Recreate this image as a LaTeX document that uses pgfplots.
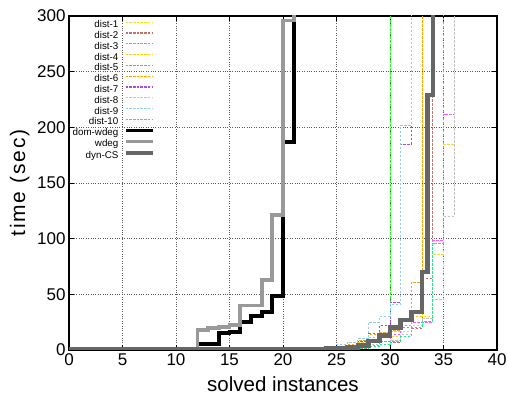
\documentclass[border=0pt]{standalone}
\usepackage{pgfplots}
\pgfplotsset{compat=1.18}
\usepackage{fontspec}
\setmainfont{Liberation Sans}
\definecolor{distA}{HTML}{F2E21E}
\definecolor{distB}{HTML}{CC6F6A}
\definecolor{distC}{HTML}{3AE83A}
\definecolor{distD}{HTML}{FFD000}
\definecolor{distE}{HTML}{FF55FF}
\definecolor{distF}{HTML}{FFA500}
\definecolor{distG}{HTML}{A64AF2}
\definecolor{distH}{HTML}{C4C4C4}
\definecolor{distI}{HTML}{90CDEE}
\definecolor{distJ}{HTML}{10F090}
\definecolor{wdegcol}{HTML}{999999}
\definecolor{dyncol}{HTML}{666666}
\pgfplotsset{distline/.style={color=#1, dash pattern=on 2.5pt off 1.5pt, line width=0.9pt, legend image post style={line width=1.3pt, dash pattern=on 2.5pt off 1.2pt}}}
\begin{document}
\begin{tikzpicture}
\useasboundingbox (-69pt,-48pt) rectangle (439pt,350pt);
\begin{axis}[
  at={(0pt,0pt)}, anchor=south west,
  scale only axis, width=428pt, height=334pt,
  xmin=0, xmax=40, ymin=0, ymax=300,
  xtick={0,5,...,40}, ytick={0,50,...,300},
  grid=major,
  major grid style={dotted, black!65, line width=0.7pt},
  axis line style={line width=1.1pt},
  tick style={black, line width=0.8pt}, major tick length=5pt,
  tick align=inside,
  ticklabel style={font=\fontsize{17}{17}\selectfont},
  /pgf/number format/assume math mode=true,
  xlabel={solved instances}, ylabel={\addfontfeatures{LetterSpace=9}time (sec)},
  label style={font=\fontsize{20.5}{20.5}\selectfont},
  xlabel style={at={(axis description cs:0.5,-0.1228)}, anchor=base},
  ylabel style={at={(axis description cs:-0.1028,0.5)}, anchor=base, font=\fontsize{21}{21}\selectfont},
  legend style={at={(axis description cs:0.2009,0.9865)}, anchor=north east,
    draw=none, fill=none, inner sep=0pt, outer sep=0pt,
    font=\fontsize{9.8}{10}\selectfont, row sep=1.4pt, column sep=5pt,
    nodes={inner sep=0pt, text height=7.2pt, text depth=2.2pt}},
  legend cell align=right,
  legend plot pos=right,
  legend image code/.code={\draw[#1] (0pt,3pt) -- (27pt,3pt);},
  const plot,
  every axis plot/.append style={line join=miter},
]
\addplot[distline=distA] coordinates {(0,0.2)(23,0.5)(25,1.5)(27,4)(29,8)(30,12)(31,16.5)(32,22)(33,30)(34,86)(35,185)(36,400)};
\addlegendentry{dist-1}
\addplot[distline=distB] coordinates {(0,0.2)(24,0.5)(26,1)(28,3)(29,5)(30,7)(31,12)(32,19.5)(33,64)(34,400)};
\addlegendentry{dist-2}
\addplot[distline=distC] coordinates {(0,0.2)(24,0.5)(26,1)(27,2)(28,3)(29,5)(30,400)};
\addlegendentry{dist-3}
\addplot[distline=distD] coordinates {(0,0.2)(23,0.5)(25,2)(26,4)(27,7)(28,11)(29,14)(30,17)(31,20)(32,30)(33,400)};
\addlegendentry{dist-4}
\addplot[distline=distE] coordinates {(0,0.2)(24,0.5)(26,1.5)(28,4)(29,8)(30,14)(31,20)(32,25)(34,98)(35,212)(36,400)};
\addlegendentry{dist-5}
\addplot[distline=distF] coordinates {(0,0.2)(22,0.5)(24,2)(25,3)(26,5)(27,9)(28,14)(29,16)(30,18)(31,22)(32,61)(33,400)};
\addlegendentry{dist-6}
\addplot[distline=distG] coordinates {(0,0.2)(23,0.5)(25,1.5)(26,3)(27,8)(28,15)(29,22)(30,43)(31,185)(32,400)};
\addlegendentry{dist-7}
\addplot[distline=distH] coordinates {(0,0.2)(24,0.5)(26,2)(28,5)(30,9)(31,14)(32,20)(33,28)(34,45)(35,120)(36,400)};
\addlegendentry{dist-8}
\addplot[distline=distI] coordinates {(0,0.2)(21,0.5)(23,1.5)(24,3)(25,5)(26,7)(27,10)(28,25)(29,30)(30,41)(31,202)(32,400)};
\addlegendentry{dist-9}
\addplot[distline=distJ] coordinates {(0,0.2)(25,0.5)(27,1.5)(28,3)(29,5)(30,8)(31,12)(32,20)(33,26)(34,96)(35,400)};
\addlegendentry{dist-10}
\addplot[black, line width=3.8pt] coordinates {(0,0.5)(12,5.4)(14,15)(15,16.5)(16,25)(17,30.5)(18,34)(19,48.5)(20,187)(21,400)};
\addlegendentry{dom-wdeg}
\addplot[wdegcol, line width=3.8pt] coordinates {(0,0.8)(12,18)(13,19.5)(14,21)(15,22.5)(16,40)(17,40)(18,63)(19,121)(20,296)(21,400)};
\addlegendentry{wdeg}
\addplot[dyncol, line width=4.6pt] coordinates {(0,0.5)(20,0.8)(22,1)(24,1.5)(26,2.5)(27,4)(28,8)(29,13)(30,20)(31,27)(32,34)(33,70)(33.5,229)(34,400)};
\addlegendentry{dyn-CS}
\end{axis}
\end{tikzpicture}
\end{document}
